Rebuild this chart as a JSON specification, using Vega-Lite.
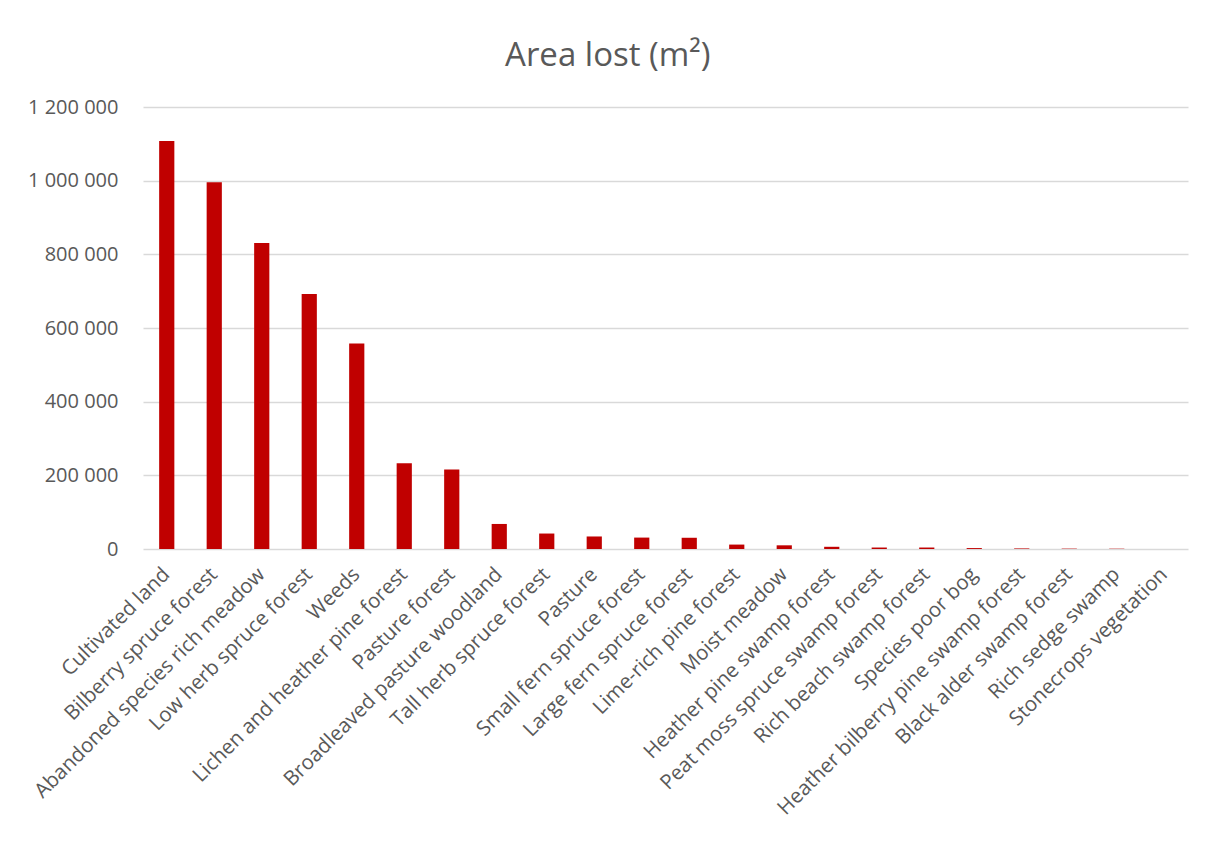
{
  "$schema": "https://vega.github.io/schema/vega-lite/v6.json",
  "autosize": {"type": "none"},
  "width": 1045,
  "height": 442,
  "padding": {"left": 143, "top": 107, "right": 25, "bottom": 296},
  "background": "white",
  "config": {
    "locale": {"number": {"decimal": ",", "thousands": " ", "grouping": [3], "currency": ["", " kr"]}},
    "font": "Open Sans",
    "view": {"stroke": null}
  },
  "title": {
    "text": "Area lost (m²)",
    "font": "Open Sans",
    "fontSize": 33,
    "fontWeight": "normal",
    "color": "#595959",
    "anchor": "middle",
    "frame": "bounds",
    "offset": 24
  },
  "data": {
    "values": [
      {"habitat": "Cultivated land", "area": 1108000},
      {"habitat": "Bilberry spruce forest", "area": 996000},
      {"habitat": "Abandoned species rich meadow", "area": 831000},
      {"habitat": "Low herb spruce forest", "area": 692000},
      {"habitat": "Weeds", "area": 558000},
      {"habitat": "Lichen and heather pine forest", "area": 233000},
      {"habitat": "Pasture forest", "area": 216000},
      {"habitat": "Broadleaved pasture woodland", "area": 68000},
      {"habitat": "Tall herb spruce forest", "area": 42000},
      {"habitat": "Pasture", "area": 34000},
      {"habitat": "Small fern spruce forest", "area": 31000},
      {"habitat": "Large fern spruce forest", "area": 30500},
      {"habitat": "Lime-rich pine forest", "area": 12000},
      {"habitat": "Moist meadow", "area": 10000},
      {"habitat": "Heather pine swamp forest", "area": 6000},
      {"habitat": "Peat moss spruce swamp forest", "area": 4000},
      {"habitat": "Rich beach swamp forest", "area": 4000},
      {"habitat": "Species poor bog", "area": 2500},
      {"habitat": "Heather bilberry pine swamp forest", "area": 1500},
      {"habitat": "Black alder swamp forest", "area": 1000},
      {"habitat": "Rich sedge swamp", "area": 800},
      {"habitat": "Stonecrops vegetation", "area": 300}
    ]
  },
  "mark": {"type": "bar", "color": "#C00000"},
  "encoding": {
    "x": {
      "field": "habitat",
      "type": "nominal",
      "sort": null,
      "scale": {"paddingInner": 0.68, "paddingOuter": 0.34},
      "axis": {
        "title": null,
        "labelAngle": -45,
        "labelAlign": "right",
        "labelBaseline": "middle",
        "labelFontSize": 20.5,
        "labelColor": "#595959",
        "labelPadding": 22,
        "ticks": false,
        "domain": false,
        "grid": false,
        "labelLimit": 400
      }
    },
    "y": {
      "field": "area",
      "type": "quantitative",
      "scale": {"domain": [0, 1200000]},
      "axis": {
        "title": null,
        "values": [0, 200000, 400000, 600000, 800000, 1000000, 1200000],
        "format": ",d",
        "labelFontSize": 20,
        "labelColor": "#595959",
        "labelPadding": 25,
        "ticks": false,
        "domain": false,
        "gridColor": "#d9d9d9",
        "gridWidth": 1.3
      }
    }
  }
}
